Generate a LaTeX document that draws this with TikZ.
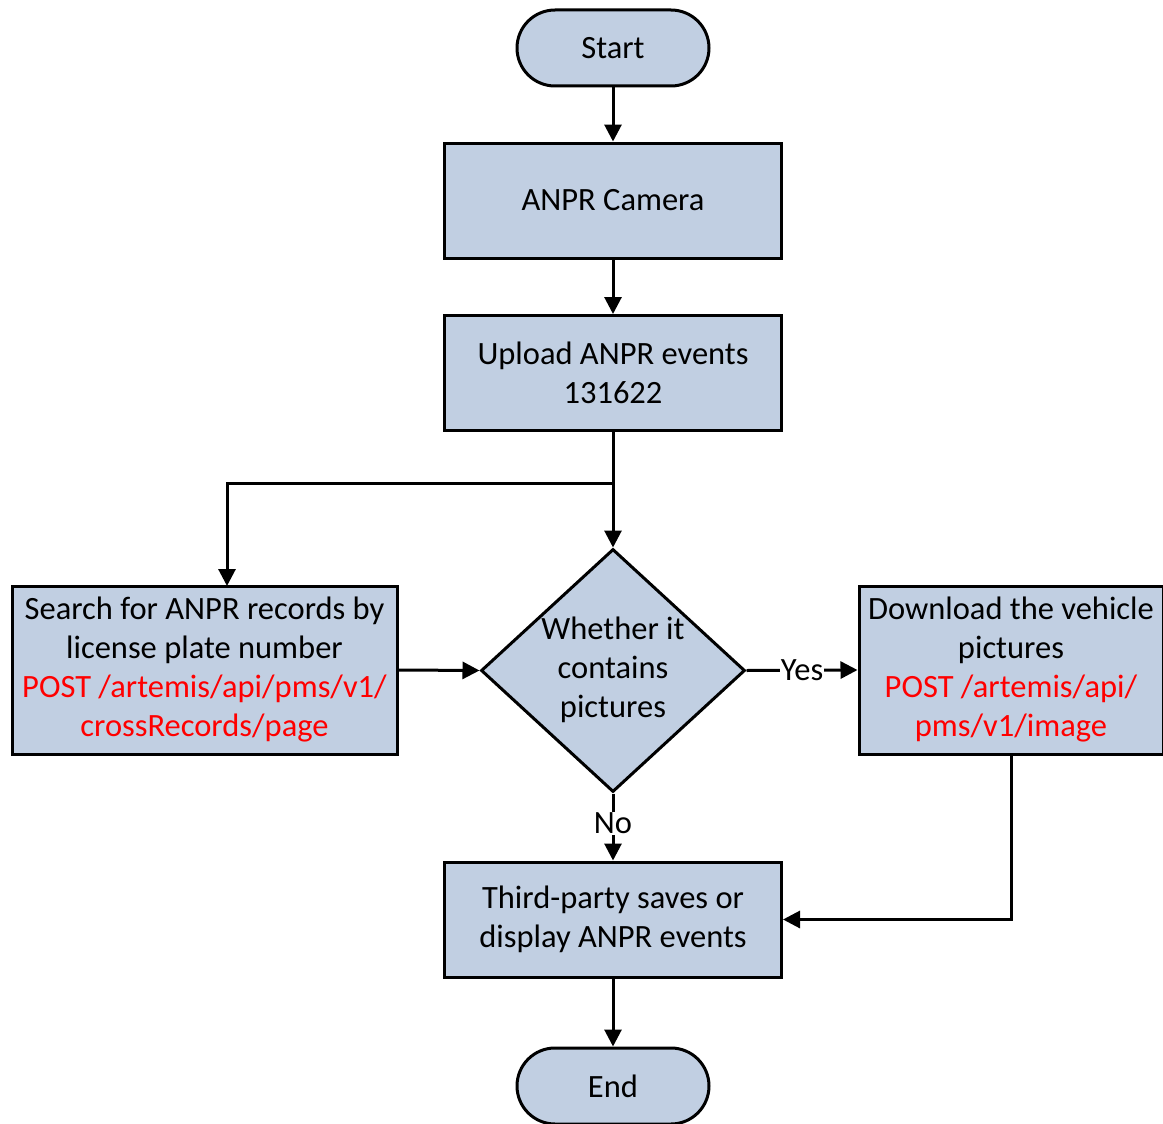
\documentclass[tikz,border=0pt]{standalone}
\usepackage{fontspec}
\setmainfont{Carlito}
\usetikzlibrary{shapes.geometric,arrows.meta,calc}
\definecolor{boxfill}{RGB}{193,207,226}
\definecolor{apired}{RGB}{255,0,0}
\begin{document}
\begin{tikzpicture}[x=1pt,y=-1pt,
  every node/.style={font=\fontsize{32.5}{39}\selectfont},
  base/.style={draw=black,line width=3pt,fill=boxfill,align=center,inner sep=0pt},
  procbox/.style={base,rectangle,minimum width=337pt,minimum height=115pt},
  term/.style={base,rounded corners=38pt,minimum width=192pt,minimum height=76pt},
  decide/.style={base,diamond,minimum width=264pt,minimum height=243pt},
  conn/.style={line width=3pt,-{Triangle[length=17pt,width=17pt]}},
  plain/.style={line width=3pt},
  lbl/.style={fill=white,inner sep=1pt}
]
\useasboundingbox (0,0) rectangle (1163,1124);
\node[term] (start) at (613,48) {Start};
\node[procbox] (cam) at (613,200.5) {ANPR Camera};
\node[procbox] (up) at (613,373) {Upload ANPR events\\131622};
\node[decide] (dec) at (613,670.5) {};
\node[align=center] (dectext) at (613,670) {Whether it\\contains\\pictures};
\node[base,minimum width=385pt,minimum height=168pt] (search) at (204.5,670) {Search for ANPR records by\\license plate number\\\textcolor{apired}{POST /artemis/api/pms/v1/}\\\textcolor{apired}{crossRecords/page}};
\node[base,minimum width=304pt,minimum height=168pt] (down) at (1011,670) {Download the vehicle\\pictures\\\textcolor{apired}{POST /artemis/api/}\\\textcolor{apired}{pms/v1/image}};
\node[procbox] (third) at (613,919.5) {Third-party saves or\\display ANPR events};
\node[term] (end) at (613,1086) {End};
\coordinate (split) at (613,483);

\draw[conn] (start) -- (cam);
\draw[conn] (cam) -- (up);
\draw[plain] (up) -- (split);
\draw[conn] (split) -- (dec.north);
\draw[conn] (split) -| (227,586);
\draw[conn] (search.east) -- (dec.west);
\draw[conn] (dec.east) -- node[lbl] {Yes} (down.west);
\draw[conn] (dec.south) -- node[lbl,pos=0.45] {No} (third.north);
\draw[conn] (down.south) |- (third.east);
\draw[conn] (third) -- (end);
\end{tikzpicture}
\end{document}
